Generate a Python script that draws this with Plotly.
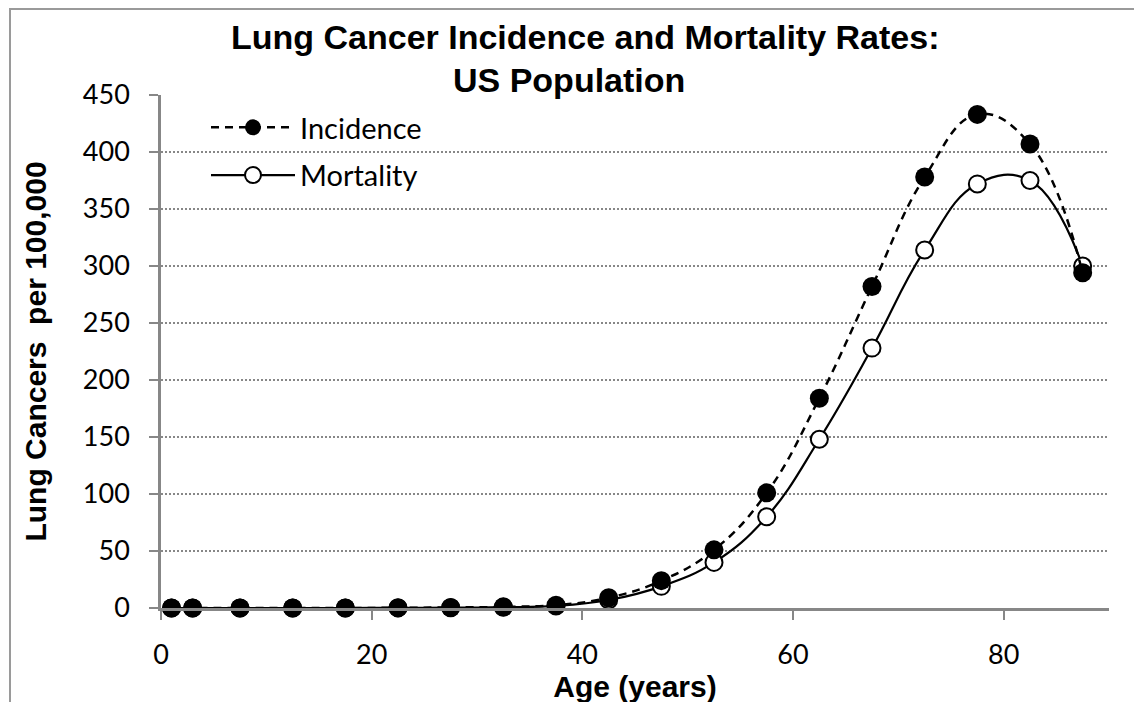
import plotly.graph_objects as go

# ---- data ----
ages = [1, 3, 7.5, 12.5, 17.5, 22.5, 27.5, 32.5, 37.5, 42.5, 47.5, 52.5,
        57.5, 62.5, 67.5, 72.5, 77.5, 82.5, 87.5]
incidence = [0, 0, 0, 0, 0, 0.2, 0.5, 1, 2.5, 9, 24, 51,
             101, 184, 282, 378, 433, 407, 294]
mortality = [0, 0, 0, 0, 0, 0.1, 0.3, 0.7, 1.8, 7, 19, 40,
             80, 148, 228, 314, 372, 375, 300]

x_ticks = [0, 20, 40, 60, 80]
y_ticks = [0, 50, 100, 150, 200, 250, 300, 350, 400, 450]

title_line1 = "Lung Cancer Incidence and Mortality Rates:"
title_line2 = "US Population"
x_title = "Age (years)"
y_title = "Lung Cancers\u00a0\u00a0per 100,000"

# page body has an 8px margin; compensate so the plot lands where it should
OFF = 8
W, H = 1142, 702
PL, PR, PT, PB = 161, 1109, 95, 608   # target plot-area edges in window pixels
L = PL - OFF
T = PT - OFF
PW = PR - PL
PH = PB - PT
R = W - L - PW
B = H - T - PH


def px_x(xp):  # window pixel -> paper x
    return (xp - PL) / PW


def px_y(yp):  # window pixel -> paper y
    return (PB - yp) / PH


TICK_FONT = dict(family="Lato, Carlito, Calibri, sans-serif", size=27, color="black")
BOLD_FAMILY = "Liberation Sans, Arial, sans-serif"

fig = go.Figure()

fig.add_trace(go.Scatter(
    x=ages, y=mortality, name="Mortality", mode="lines+markers",
    legendrank=2, legendgroup="mort", cliponaxis=False,
    line=dict(color="black", width=2.2, shape="spline", smoothing=1.2),
    marker=dict(symbol="circle", size=17, color="white",
                line=dict(color="black", width=2)),
))
fig.add_trace(go.Scatter(
    x=ages, y=incidence, name="Incidence", mode="lines+markers",
    legendrank=1, legendgroup="inc", cliponaxis=False,
    line=dict(color="black", width=2.5, dash="8px,6px", shape="spline", smoothing=1.2),
    marker=dict(symbol="circle", size=19, color="black",
                line=dict(color="black", width=0)),
))

grid_color = "#878787"
axis_color = "#878787"

fig.update_xaxes(
    range=[0, 90], tickvals=x_ticks, ticks="outside", ticklen=9, tickwidth=2,
    tickcolor=axis_color, showline=True, linecolor=axis_color, linewidth=2.5,
    showgrid=False, zeroline=False, tickfont=TICK_FONT, ticklabelstandoff=12,
    title=dict(text=x_title,
               font=dict(family=BOLD_FAMILY, size=30, color="black", weight="bold"),
               standoff=4),
)
fig.update_yaxes(
    range=[0, 450], tickvals=y_ticks, ticks="outside", ticklen=9, tickwidth=2,
    tickcolor=axis_color, showline=True, linecolor=axis_color, linewidth=2.5,
    showgrid=True, gridcolor=grid_color, gridwidth=1.7, griddash="2px,2px",
    zeroline=False, tickfont=TICK_FONT, ticklabelstandoff=14,
    title=dict(text=y_title,
               font=dict(family=BOLD_FAMILY, size=30, color="black", weight="bold"),
               standoff=28),
)

title_font = dict(family=BOLD_FAMILY, size=34, color="black", weight="bold")

fig.update_layout(
    width=W, height=H,
    margin=dict(l=L, r=R, t=T, b=B, autoexpand=False),
    paper_bgcolor="white", plot_bgcolor="white",
    showlegend=True,
    legend=dict(x=px_x(206), xanchor="left", y=px_y(102), yanchor="top",
                bgcolor="rgba(0,0,0,0)", borderwidth=0,
                font=dict(family="Lato, Carlito, Calibri, sans-serif", size=29, color="black"),
                traceorder="grouped", tracegroupgap=7, itemwidth=84),
    annotations=[
        dict(text=title_line1, xref="paper", yref="paper",
             x=px_x(585), y=px_y(37), xanchor="center", yanchor="middle",
             showarrow=False, font=title_font),
        dict(text=title_line2, xref="paper", yref="paper",
             x=px_x(569), y=px_y(80), xanchor="center", yanchor="middle",
             showarrow=False, font=title_font),
    ],
    shapes=[dict(type="rect", xref="paper", yref="paper",
                 x0=px_x(10), x1=px_x(1160),
                 y0=px_y(720), y1=px_y(9),
                 line=dict(color="#9a9a9a", width=2), layer="below")],
)

fig.write_html("out.html")
